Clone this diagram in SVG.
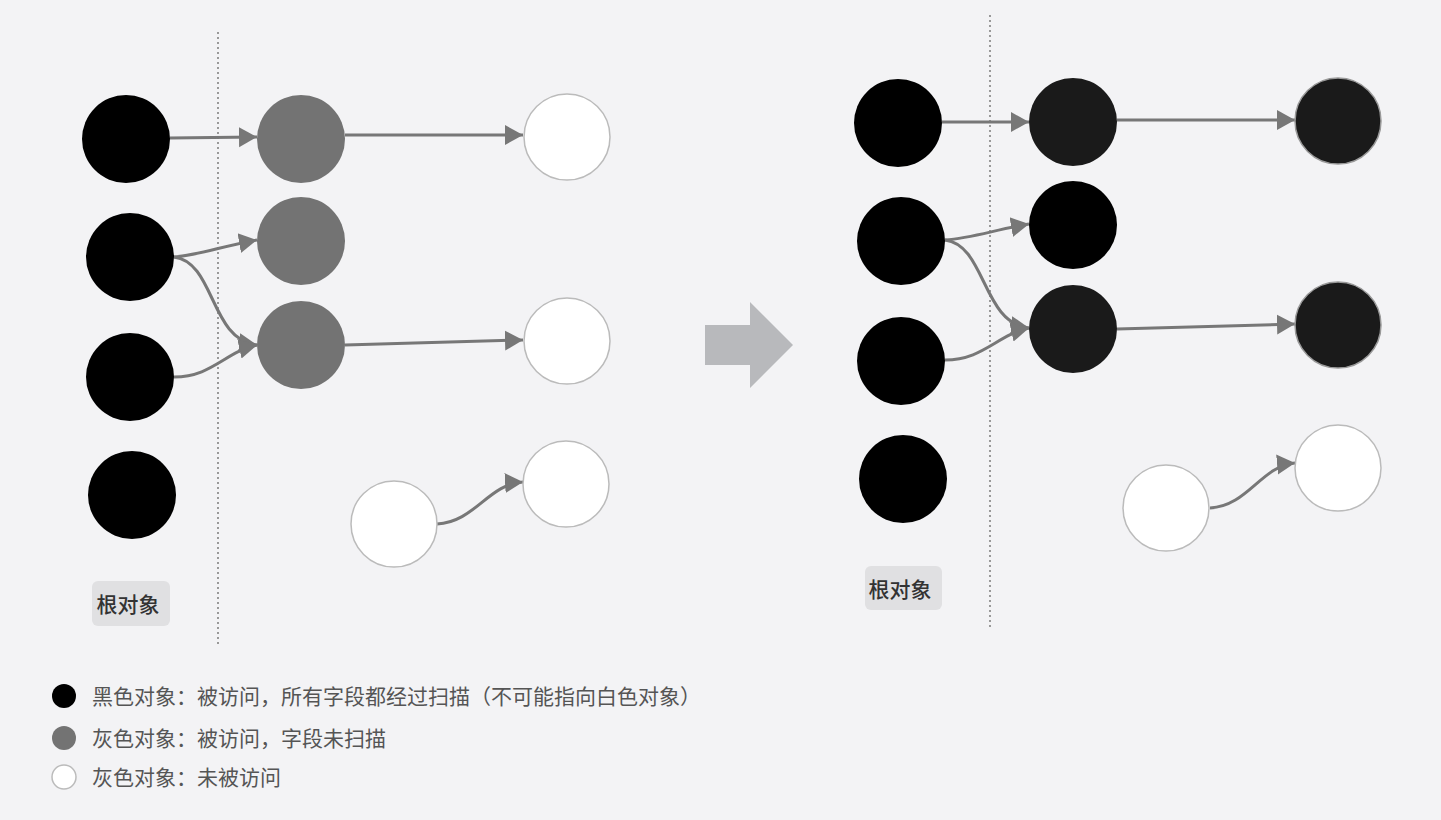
<svg xmlns="http://www.w3.org/2000/svg" width="1441" height="820" viewBox="0 0 1441 820">
<defs>
<marker id="ah" markerUnits="userSpaceOnUse" markerWidth="20" markerHeight="22" refX="18" refY="10" orient="auto" viewBox="0 0 20 20">
<path d="M0,0 L18,10 L0,20 Z" fill="#777"/>
</marker>
</defs>
<style>
.blk{fill:#000}
.dk{fill:#1a1a1a;stroke:#999;stroke-width:1.5}
.gry{fill:#737373}
.wht{fill:#fff;stroke:#bbb;stroke-width:1.5}
.div{stroke:#999;stroke-width:2;stroke-dasharray:2 3;fill:none}
.edge{fill:none;stroke:#777;stroke-width:3;marker-end:url(#ah)}
.lbl{fill:#e0e0e2}
.lt{font-family:"Noto Sans CJK SC","Noto Sans",sans-serif;font-size:21px;fill:#333;font-weight:500}
.lg{font-family:"Noto Sans CJK SC","Noto Sans",sans-serif;font-size:21px;fill:#555}
</style>
<rect width="1441" height="820" fill="#f3f3f5"/>
<line class="div" x1="218" y1="32" x2="218" y2="645"/>
<line class="div" x1="990" y1="15" x2="990" y2="630"/>
<g id="connectors">
<path class="edge" d="M170,138 L257,137"/>
<path class="edge" d="M174,257 C200,255 222,246 257,240"/>
<path class="edge" d="M174,257 C215,262 210,340 257,345"/>
<path class="edge" d="M174,377 C212,377 225,352 257,345"/>
<path class="edge" d="M345,135 L523,135"/>
<path class="edge" d="M345,345 L523,340"/>
<path class="edge" d="M437,524 C475,522 488,484 523,482"/>
<path class="edge" d="M942,122 L1029,122"/>
<path class="edge" d="M945,240 C972,238 994,230 1029,224"/>
<path class="edge" d="M945,240 C986,245 982,323 1029,328"/>
<path class="edge" d="M945,360 C983,360 997,335 1029,328"/>
<path class="edge" d="M1117,120 L1295,120"/>
<path class="edge" d="M1117,329 L1295,324"/>
<path class="edge" d="M1210,508 C1248,506 1261,466 1295,463"/>
</g>
<g id="l-root1"><circle class="blk" cx="126" cy="139" r="44"/></g>
<g id="l-root2"><circle class="blk" cx="130" cy="257" r="44"/></g>
<g id="l-root3"><circle class="blk" cx="130" cy="377" r="44"/></g>
<g id="l-root4"><circle class="blk" cx="132" cy="495" r="44"/></g>
<g id="l-g1"><circle class="gry" cx="301" cy="139" r="44"/></g>
<g id="l-g2"><circle class="gry" cx="301" cy="241" r="44"/></g>
<g id="l-g3"><circle class="gry" cx="301" cy="345" r="44"/></g>
<g id="l-w1"><circle class="wht" cx="567" cy="137" r="43"/></g>
<g id="l-w2"><circle class="wht" cx="567" cy="341" r="43"/></g>
<g id="l-w3"><circle class="wht" cx="566" cy="484" r="43"/></g>
<g id="l-w4"><circle class="wht" cx="394" cy="524" r="43"/></g>
<g id="l-label"><rect class="lbl" x="92" y="581" width="78" height="45" rx="6"/><text class="lt" x="128" y="612" text-anchor="middle">根对象</text></g>
<g id="big-arrow"><polygon points="705,325 750,325 750,302 793,345 750,388 750,365 705,365" fill="#b8b9bc"/></g>
<g id="r-root1"><circle class="blk" cx="898" cy="123" r="44"/></g>
<g id="r-root2"><circle class="blk" cx="901" cy="241" r="44"/></g>
<g id="r-root3"><circle class="blk" cx="901" cy="361" r="44"/></g>
<g id="r-root4"><circle class="blk" cx="903" cy="479" r="44"/></g>
<g id="r-b1"><circle fill="#1a1a1a" cx="1073" cy="122" r="44"/></g>
<g id="r-b2"><circle class="blk" cx="1073" cy="225" r="44"/></g>
<g id="r-b3"><circle fill="#1a1a1a" cx="1073" cy="329" r="44"/></g>
<g id="r-b4"><circle class="dk" cx="1338" cy="121" r="43"/></g>
<g id="r-b5"><circle class="dk" cx="1338" cy="325" r="43"/></g>
<g id="r-w1"><circle class="wht" cx="1338" cy="468" r="43"/></g>
<g id="r-w2"><circle class="wht" cx="1166" cy="508" r="43"/></g>
<g id="r-label"><rect class="lbl" x="865" y="566" width="77" height="44" rx="6"/><text class="lt" x="900" y="597" text-anchor="middle">根对象</text></g>
<g id="legend">
<circle class="blk" cx="64" cy="696" r="12"/>
<text class="lg" x="92" y="704">黑色对象：被访问，所有字段都经过扫描（不可能指向白色对象）</text>
<circle class="gry" cx="64" cy="738" r="12"/>
<text class="lg" x="92" y="746">灰色对象：被访问，字段未扫描</text>
<circle class="wht" cx="64" cy="777" r="12"/>
<text class="lg" x="92" y="785">灰色对象：未被访问</text>
</g>
</svg>
